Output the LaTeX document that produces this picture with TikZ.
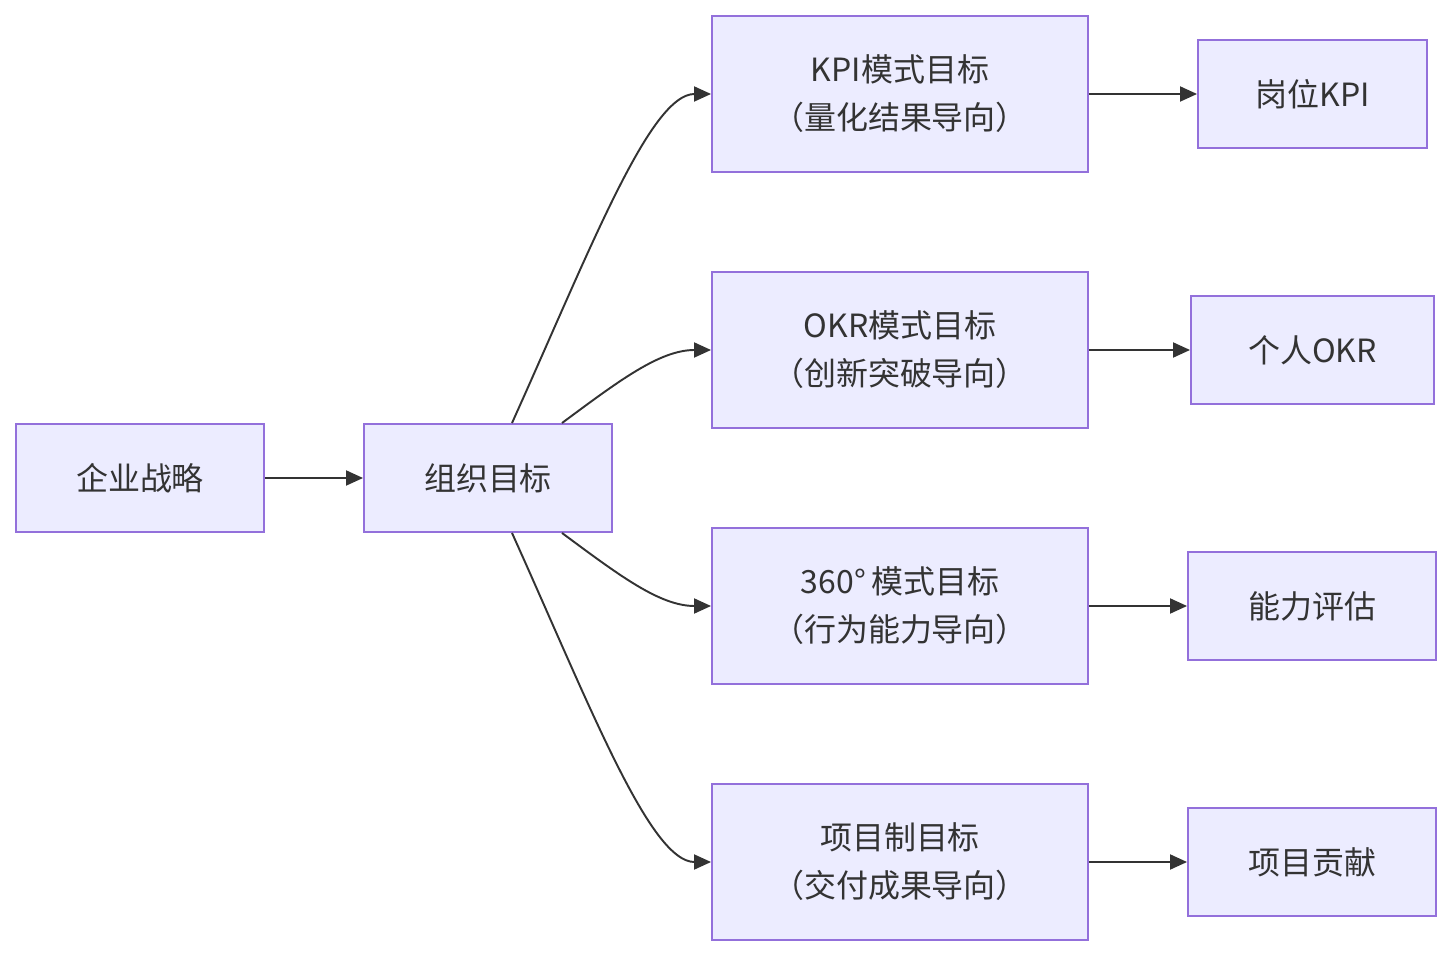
\documentclass[tikz,border=0pt]{standalone}
\usepackage{fontspec}
\setmainfont{Noto Sans CJK SC}
\usepackage{xcolor}
\usepackage{tikz}
\usetikzlibrary{arrows.meta, positioning, calc}
\definecolor{mmfill}{RGB}{236,236,255}
\definecolor{mmline}{RGB}{147,112,219}
\definecolor{mmdark}{RGB}{51,51,51}
\tikzset{
  box/.style={rectangle, draw=mmline, fill=mmfill, line width=1.1pt,
    minimum width=4.96cm, minimum height=2.16cm, align=center,
    text=mmdark, font=\fontsize{18.2}{27.3}\selectfont},
  bigbox/.style={box, minimum width=7.52cm, minimum height=3.12cm},
  arrow/.style={-{Triangle[length=0.34cm, width=0.3cm]}, line width=1.1pt, color=mmdark}
}
\begin{document}
\begin{tikzpicture}
  \useasboundingbox (0,0) rectangle (29.04,-19.12);
  \node[box] (strat) at (2.8,-9.56) {企业战略};
  \node[box] (org) at (9.76,-9.56) {组织目标};
  \node[bigbox] (kpi) at (18,-1.88) {KPI模式目标\\（量化结果导向）};
  \node[bigbox] (okr) at (18,-7) {OKR模式目标\\（创新突破导向）};
  \node[bigbox] (deg) at (18,-12.12) {360°\,模式目标\\（行为能力导向）};
  \node[bigbox] (proj) at (18,-17.24) {项目制目标\\（交付成果导向）};
  \node[box, minimum width=4.58cm] (postkpi) at (26.25,-1.88) {岗位KPI};
  \node[box, minimum width=4.86cm] (perokr) at (26.25,-7) {个人OKR};
  \node[box] (ability) at (26.24,-12.12) {能力评估};
  \node[box] (contrib) at (26.24,-17.24) {项目贡献};
  \draw[arrow] (strat) -- (org);
  % fan out from the organisation goal
  \draw[arrow] ($(org.north)+(0.48,0)$) .. controls (11.8,-5) and (13,-1.88) .. (kpi.west);
  \draw[arrow] ($(org.north)+(1.48,0)$) .. controls (12.4,-7.6) and (13.2,-7) .. (okr.west);
  \draw[arrow] ($(org.south)+(1.48,0)$) .. controls (12.4,-11.52) and (13.2,-12.12) .. (deg.west);
  \draw[arrow] ($(org.south)+(0.48,0)$) .. controls (11.8,-14.12) and (13,-17.24) .. (proj.west);
  \draw[arrow] (kpi) -- (postkpi);
  \draw[arrow] (okr) -- (perokr);
  \draw[arrow] (deg) -- (ability);
  \draw[arrow] (proj) -- (contrib);
\end{tikzpicture}
\end{document}
